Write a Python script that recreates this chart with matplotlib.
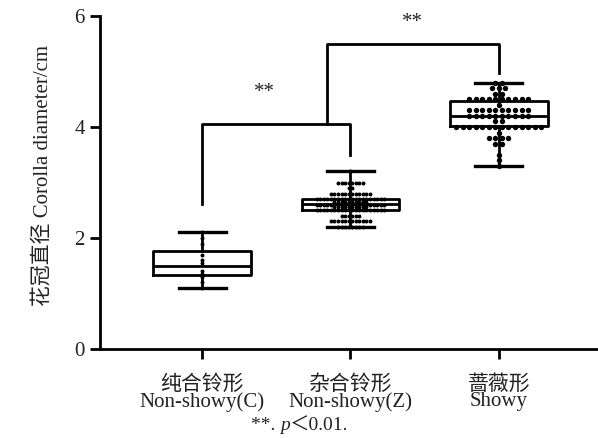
import numpy as np
import matplotlib
matplotlib.use('Agg')
import matplotlib.pyplot as plt
from matplotlib.offsetbox import TextArea, HPacker, AnchoredOffsetbox

plt.rcParams['font.family'] = ['Liberation Serif', 'Noto Sans CJK SC', 'DejaVu Sans']

# categories
cats_cn = ['纯合铃形', '杂合铃形', '蔷薇形']
cats_en = ['Non-showy(C)', 'Non-showy(Z)', 'Showy']

# box statistics
q1 = [1.33, 2.50, 4.01]
med = [1.50, 2.61, 4.19]
q3 = [1.77, 2.70, 4.47]
whislo = [1.10, 2.20, 3.30]
whishi = [2.10, 3.20, 4.80]

# individual measurements (value, count)
pts_c = [2.1, 2.0, 1.9, 1.7, 1.6, 1.55, 1.4, 1.35, 1.3, 1.2, 1.1]
vals_z = [3.2, 3.0, 2.9, 2.8, 2.7, 2.65, 2.6, 2.55, 2.5, 2.4, 2.3, 2.2]
cnt_z = [1, 8, 2, 12, 20, 10, 20, 10, 20, 6, 12, 8]
vals_s = [4.8, 4.7, 4.6, 4.5, 4.4, 4.3, 4.2, 4.1, 4.0, 3.9, 3.8, 3.7, 3.5, 3.4, 3.3]
cnt_s = [2, 3, 2, 10, 1, 10, 10, 2, 14, 1, 4, 2, 1, 1, 1]


def spread(vals, cnts, step):
    # lay repeated values side by side in a row
    xs, ys = [], []
    for v, n in zip(vals, cnts):
        off = (np.arange(n) - (n - 1) / 2) * step
        xs.extend(off)
        ys.extend([v] * n)
    return np.array(xs), np.array(ys)


fig = plt.figure(figsize=(5.98, 4.38), dpi=100)
ax = fig.add_axes([100 / 598, 89 / 438, 498 / 598, 333 / 438])

stats = []
for i in range(3):
    stats.append(dict(q1=q1[i], med=med[i], q3=q3[i], whislo=whislo[i], whishi=whishi[i], fliers=[]))
ax.bxp(stats, positions=[0, 1, 2], widths=0.66, showfliers=False,
       boxprops=dict(color='black', lw=2),
       medianprops=dict(color='black', lw=2),
       whiskerprops=dict(color='black', lw=2),
       capprops=dict(color='black', lw=2.4),
       capwidths=0.32, zorder=2)

# points
ax.scatter(np.zeros(len(pts_c)), pts_c, s=8, color='black', zorder=3, lw=0)
xz, yz = spread(vals_z, cnt_z, 0.024)
ax.scatter(1 + xz, yz, s=8, color='black', zorder=3, lw=0)
xs, ys = spread(vals_s, cnt_s, 0.044)
ax.scatter(2 + xs, ys, s=15, color='black', zorder=3, lw=0)

# significance brackets
ax.plot([0, 0, 1, 1], [2.62, 4.05, 4.05, 3.5], color='black', lw=2, clip_on=False)
ax.plot([0.84, 0.84, 2, 2], [4.05, 5.5, 5.5, 4.98], color='black', lw=2, clip_on=False)
ax.text(0.42, 4.63, '**', ha='center', va='center', fontsize=15, color='#222')
ax.text(1.42, 5.89, '**', ha='center', va='center', fontsize=15, color='#222')

ax.set_xlim(-0.69, 2.67)
ax.set_ylim(0, 6)
ax.set_yticks([0, 2, 4, 6])
ax.set_xticks([0, 1, 2])
ax.set_xticklabels([c + '\n' + e for c, e in zip(cats_cn, cats_en)], linespacing=0.78)
for s in ['top', 'right']:
    ax.spines[s].set_visible(False)
for s in ['left', 'bottom']:
    ax.spines[s].set_linewidth(2)
ax.tick_params(axis='both', length=7, width=2, labelsize=15, labelcolor='#222')
ax.tick_params(axis='x', pad=12)
ax.tick_params(axis='y', pad=4)

ax.set_ylabel('花冠直径 Corolla diameter/cm', fontsize=15, color='#222')
ax.yaxis.set_label_coords(-0.094, 0.52)

# footnote
parts = [TextArea('**. ', textprops=dict(fontsize=14, color='#222')),
         TextArea('p', textprops=dict(fontsize=14, color='#222', style='italic')),
         TextArea('＜0.01.', textprops=dict(fontsize=14, color='#222'))]
box = HPacker(children=parts, align='baseline', pad=0, sep=0)
ab = AnchoredOffsetbox(loc='center', child=box, frameon=False,
                       bbox_to_anchor=(300 / 598, 12 / 438), bbox_transform=fig.transFigure,
                       borderpad=0, pad=0)
fig.add_artist(ab)

fig.savefig('out.png', dpi=100)
